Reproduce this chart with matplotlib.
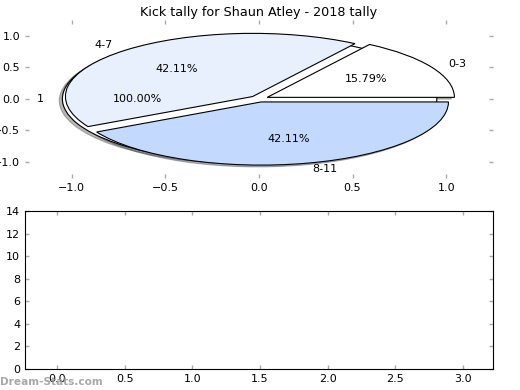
import matplotlib
matplotlib.use('Agg')
import matplotlib.pyplot as plt

title = 'Kick tally for Shaun Atley - 2018 tally'
total_labels = ['1']
total_values = [19]
range_labels = ['0-3', '4-7', '8-11']
range_values = [3, 8, 8]
range_colors = ['#ffffff', '#e8f0fe', '#c4d9fe']

plt.rcParams['font.size'] = 8

fig = plt.figure(figsize=(5.2, 3.9), dpi=100)
ax = fig.add_axes([0.048, 0.544, 0.9, 0.405])
ax2 = fig.add_axes([0.048, 0.054, 0.9, 0.405])

wp = dict(edgecolor='black', linewidth=0.8)
sh = dict(ox=-0.012, oy=-0.02, alpha=0.4)
ax.pie(total_values, labels=total_labels, explode=[0.05], colors=['white'],
       autopct='%.2f%%', shadow=sh, wedgeprops=wp, frame=True)
ax.pie(range_values, labels=range_labels, explode=[0.05] * 3, colors=range_colors,
       autopct='%.2f%%', shadow=sh, wedgeprops=wp, frame=True)
ax.set_aspect('auto')
ax.set_xlim(-1.25, 1.25)
ax.set_ylim(-1.25, 1.25)
ax.set_xticks([-1.0, -0.5, 0.0, 0.5, 1.0])
ax.set_yticks([-1.0, -0.5, 0.0, 0.5, 1.0])
for s in ax.spines.values():
    s.set_visible(False)
ax.set_title(title, fontsize=9.2, pad=3)

ax2.set_xlim(-0.236, 3.22)
ax2.set_ylim(0, 14)
ax2.set_xticks([0.0, 0.5, 1.0, 1.5, 2.0, 2.5, 3.0])
ax2.set_yticks(range(0, 15, 2))

for a in (ax, ax2):
    a.tick_params(direction='in', color='#aaaaaa', length=3, width=1,
                  top=True, right=True, labelsize=8)

fig.text(0.0, 0.014, 'Dream-Stats.com', color='#999999', fontsize=7.6,
         fontweight='bold', alpha=0.85)

fig.savefig('out.png', dpi=100)
